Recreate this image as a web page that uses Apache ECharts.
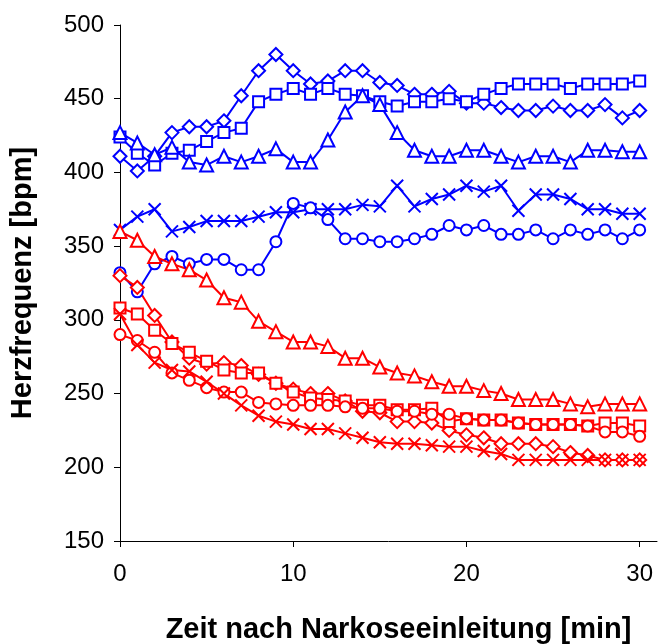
<!DOCTYPE html>
<html>
<head>
<meta charset="utf-8">
<script src="https://cdn.jsdelivr.net/npm/echarts@6/dist/echarts.min.js"></script>
<style>
  html, body { margin: 0; padding: 0; background: #fff; }
  #chart { width: 665px; height: 644px; }
</style>
</head>
<body>
<div id="chart"></div>
<script>
// Minutes after induction of anaesthesia
const minutes = [0,1,2,3,4,5,6,7,8,9,10,11,12,13,14,15,16,17,18,19,20,21,22,23,24,25,26,27,28,29,30];
const xTicks = [0, 10, 20, 30];
const yTicks = [150, 200, 250, 300, 350, 400, 450, 500];

// Heart rate [bpm], blue group
const blueDiamond = [411,401,411,427,431,431,435,452,469,480,469,460,462,469,469,461,459,453,453,455,447,447,444,442,442,445,442,442,446,437,442];
const blueSquare = [424,413,405,413,415,421,427,430,448,453,457,453,457,453,452,448,445,448,448,450,448,453,457,460,460,460,457,460,460,460,462];
const blueTriangle = [427,420,412,417,407,405,411,407,411,416,407,407,422,441,452,446,427,415,411,411,415,415,411,407,411,411,407,415,415,414,414];
const blueCross = [361,370,375,360,363,367,367,367,370,373,373,375,375,375,378,377,391,377,382,385,391,387,391,374,385,385,382,375,375,372,372];
const blueCircle = [332,319,338,343,338,341,341,334,334,353,379,376,368,355,355,353,353,355,358,364,361,364,358,358,361,355,361,358,361,355,361];

// Heart rate [bpm], red group
const redTriangle = [360,354,343,338,334,327,315,312,299,292,285,285,282,274,274,268,264,262,258,255,255,252,250,246,246,246,243,241,243,243,243];
const redDiamond = [330,322,303,285,274,270,271,269,263,257,253,250,250,245,238,237,231,231,230,225,222,220,216,216,216,214,210,208,205,205,205];
const redSquare = [308,304,293,284,278,272,266,264,264,257,251,247,246,245,242,242,239,239,240,231,233,232,232,230,229,229,229,228,230,230,228];
const redCircle = [290,286,278,264,259,254,251,251,244,243,242,242,242,241,240,240,238,238,236,236,233,232,232,230,229,229,229,228,224,224,221];
const redCross = [304,283,271,266,265,258,250,242,235,231,229,226,226,223,220,217,216,216,215,214,214,211,209,205,205,205,205,205,205,205,205];

const BLUE = '#0000ff';
const RED = '#ff0000';
const CROSS = 'path://M0,0L10,10M10,0L0,10';

const markers = {
  diamond: { symbol: 'diamond', size: 13 },
  square: { symbol: 'rect', size: 11 },
  triangle: { symbol: 'triangle', size: 13 },
  circle: { symbol: 'circle', size: 11 },
  cross: { symbol: CROSS, size: 12 }
};

function makeSeries(name, values, color, shape) {
  const m = markers[shape];
  return {
    name: name,
    type: 'line',
    data: minutes.map((t, i) => [t, values[i]]),
    symbol: m.symbol,
    symbolSize: m.size,
    showAllSymbol: true,
    clip: false,
    lineStyle: { color: color, width: 2 },
    itemStyle: { color: '#fff', borderColor: color, borderWidth: 2 },
    emphasis: { disabled: true },
    animation: false
  };
}

const series = [
  makeSeries('blau Raute', blueDiamond, BLUE, 'diamond'),
  makeSeries('blau Quadrat', blueSquare, BLUE, 'square'),
  makeSeries('blau Dreieck', blueTriangle, BLUE, 'triangle'),
  makeSeries('blau Kreuz', blueCross, BLUE, 'cross'),
  makeSeries('blau Kreis', blueCircle, BLUE, 'circle'),
  makeSeries('rot Dreieck', redTriangle, RED, 'triangle'),
  makeSeries('rot Raute', redDiamond, RED, 'diamond'),
  makeSeries('rot Quadrat', redSquare, RED, 'square'),
  makeSeries('rot Kreis', redCircle, RED, 'circle'),
  makeSeries('rot Kreuz', redCross, RED, 'cross')
];

const FONT = '"Liberation Sans", Arial, sans-serif';

const chart = echarts.init(document.getElementById('chart'), null, { renderer: 'canvas' });
chart.setOption({
  animation: false,
  backgroundColor: '#ffffff',
  grid: { left: 120, right: 8, top: 25, bottom: 103, containLabel: false, outerBoundsMode: 'none' },
  xAxis: {
    type: 'value',
    min: 0,
    max: 31,
    interval: 10,
    name: 'Zeit nach Narkoseeinleitung [min]',
    nameLocation: 'middle',
    nameGap: 74,
    nameTextStyle: { fontFamily: FONT, fontSize: 29, fontWeight: 'bold', color: '#000', padding: [0, 0, 0, 20] },
    axisLine: { show: true, lineStyle: { color: '#000', width: 1 } },
    axisTick: { show: true, inside: false, length: 6, customValues: xTicks, lineStyle: { color: '#000' } },
    axisLabel: { customValues: xTicks, margin: 21, fontFamily: FONT, fontSize: 24, color: '#000' },
    splitLine: { show: false }
  },
  yAxis: {
    type: 'value',
    min: 150,
    max: 500,
    interval: 50,
    name: 'Herzfrequenz [bpm]',
    nameLocation: 'middle',
    nameGap: 83,
    nameRotate: 90,
    nameTextStyle: { fontFamily: FONT, fontSize: 29, fontWeight: 'bold', color: '#000' },
    axisLine: { show: true, lineStyle: { color: '#000', width: 1 } },
    axisTick: { show: true, inside: false, length: 6, customValues: yTicks, lineStyle: { color: '#000' } },
    axisLabel: { customValues: yTicks, margin: 16, fontFamily: FONT, fontSize: 24, color: '#000' },
    splitLine: { show: false }
  },
  series: series
});
</script>
</body>
</html>
